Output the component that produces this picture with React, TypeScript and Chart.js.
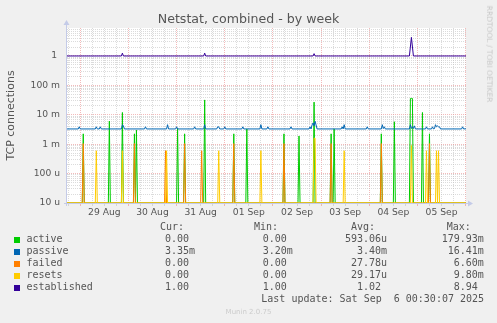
import React, { useEffect, useRef } from 'react';
import { Chart, registerables } from 'chart.js';

Chart.register(...registerables);

// Time axis: hours relative to 29 Aug 00:00
const X_MIN = -6.6;
const X_MAX = 192.2;
const Y_MIN = 1e-5;
const Y_MAX = 8.94;

const TITLE = 'Netstat, combined - by week';
const Y_TITLE = 'TCP connections';
const DAY_LABELS = ['29 Aug', '30 Aug', '31 Aug', '01 Sep', '02 Sep', '03 Sep', '04 Sep', '05 Sep'];
const DAY_LABEL_HOURS = [12, 36, 60, 84, 108, 132, 156, 180];
const Y_TICK_VALUES = [1e-5, 1e-4, 1e-3, 1e-2, 1e-1, 1];
const Y_TICK_LABELS = ['10 u', '100 u', '1 m', '10 m', '100 m', '1 '];

// [hour, value] samples (30-minute resolution)
const ACTIVE: [number, number][] = [
  [-7, 0], [1, 0], [1.5, 2.25e-3], [2, 0], [14, 0], [14.5, 6.1e-3], [15, 0],
  [20.5, 0], [21, 12e-3], [21.5, 0], [26.5, 0], [27, 2.25e-3], [27.5, 0], [28, 3e-3], [28.5, 0],
  [48, 0], [48.5, 3.5e-3], [49, 0], [51.5, 0], [52, 2.25e-3], [52.5, 0],
  [61.5, 0], [62, 32e-3], [62.5, 0], [76, 0], [76.5, 2.25e-3], [77, 0],
  [82.5, 0], [83, 3.3e-3], [83.5, 0], [101, 0], [101.5, 2.25e-3], [102, 0],
  [108.5, 0], [109, 1.9e-3], [109.5, 0], [116, 0], [116.5, 27e-3], [117, 0],
  [124.5, 0], [125, 2.25e-3], [125.5, 0], [126, 0], [126.5, 3.3e-3], [127, 0],
  [149.5, 0], [150, 2.25e-3], [150.5, 0], [156, 0], [156.5, 5.8e-3], [157, 0],
  [164, 0], [164.5, 36e-3], [165, 36e-3], [165.5, 36e-3], [166, 0],
  [170, 0], [170.5, 12e-3], [171, 0], [173.5, 0], [174, 2.25e-3], [174.5, 0], [193, 0],
];

const PASSIVE: [number, number][] = [
  [-7, 3.3e-3], [-1, 3.3e-3], [-0.5, 3.9e-3], [0, 3.3e-3], [7.5, 3.3e-3], [8, 3.9e-3], [8.5, 3.3e-3],
  [9.5, 3.3e-3], [10, 3.9e-3], [10.5, 3.3e-3], [20.5, 3.3e-3], [21, 4.6e-3], [21.5, 4.2e-3], [22, 3.3e-3],
  [32, 3.3e-3], [32.5, 3.9e-3], [33, 3.3e-3], [43, 3.3e-3], [43.5, 4.6e-3], [44, 3.3e-3],
  [47.5, 3.3e-3], [48, 3.9e-3], [48.5, 3.3e-3], [56.5, 3.3e-3], [57, 3.9e-3], [57.5, 3.3e-3],
  [61.5, 3.3e-3], [62, 4.6e-3], [62.5, 3.3e-3], [68, 3.3e-3], [68.5, 3.9e-3], [69, 3.9e-3], [69.5, 3.3e-3],
  [71.5, 3.3e-3], [72, 3.9e-3], [72.5, 3.3e-3], [80.5, 3.3e-3], [81, 3.9e-3], [81.5, 3.3e-3],
  [89.5, 3.3e-3], [90, 4.6e-3], [90.5, 3.3e-3], [93, 3.3e-3], [93.5, 3.9e-3], [94, 3.3e-3],
  [104.5, 3.3e-3], [105, 3.9e-3], [105.5, 3.3e-3],
  [114, 3.3e-3], [114.5, 3.9e-3], [115, 3.3e-3], [115.5, 4.5e-3], [116, 5.3e-3], [116.5, 4.2e-3],
  [117, 6e-3], [117.5, 4.5e-3], [118, 3.3e-3],
  [130, 3.3e-3], [130.5, 3.9e-3], [131, 3.3e-3], [131.5, 4.6e-3], [132, 3.3e-3],
  [142.5, 3.3e-3], [143, 3.9e-3], [143.5, 3.3e-3], [150, 3.3e-3], [150.5, 4.6e-3], [151, 3.4e-3],
  [151.5, 3.9e-3], [152, 3.3e-3], [164, 3.3e-3], [164.5, 4.6e-3], [165, 3.4e-3], [165.5, 3.9e-3],
  [166, 3.4e-3], [166.5, 4.2e-3], [167, 3.3e-3], [172, 3.3e-3], [172.5, 3.9e-3], [173, 3.3e-3],
  [175, 3.3e-3], [175.5, 3.9e-3], [176, 3.3e-3], [176.5, 3.4e-3], [177, 4.6e-3], [177.5, 3.9e-3],
  [178, 4.2e-3], [178.5, 3.9e-3], [179, 3.9e-3], [179.5, 3.3e-3], [190, 3.3e-3], [190.5, 3.9e-3],
  [191, 3.3e-3], [193, 3.35e-3],
];

const FAILED: [number, number][] = [
  [-7, 0], [1, 0], [1.5, 1.05e-3], [2, 0], [26.5, 0], [27, 1.05e-3], [27.5, 0],
  [42, 0], [42.5, 0.6e-3], [43, 0], [51.5, 0], [52, 1.05e-3], [52.5, 0],
  [60, 0], [60.5, 0.6e-3], [61, 0], [76, 0], [76.5, 1.05e-3], [77, 0],
  [101, 0], [101.5, 1.05e-3], [102, 0], [124.5, 0], [125, 1.05e-3], [125.5, 0],
  [149.5, 0], [150, 1.05e-3], [150.5, 0], [173.5, 0], [174, 1.05e-3], [174.5, 0], [193, 0],
];

const RESETS: [number, number][] = [
  [-7, 0], [7.5, 0], [8, 0.6e-3], [8.5, 0], [20.5, 0], [21, 0.6e-3], [21.5, 0],
  [42.5, 0], [43, 0.6e-3], [43.5, 0], [68.5, 0], [69, 0.6e-3], [69.5, 0],
  [89.5, 0], [90, 0.6e-3], [90.5, 0], [116, 0], [116.5, 1.6e-3], [117, 1.6e-3], [117.5, 0],
  [131, 0], [131.5, 0.6e-3], [132, 0], [164.5, 0], [165, 0.9e-3], [165.5, 0],
  [172, 0], [172.5, 0.6e-3], [173, 0], [177, 0], [177.5, 0.6e-3], [178, 0], [178.5, 0.6e-3], [179, 0],
  [193, 0],
];

const ESTABLISHED: [number, number][] = [
  [-7, 1], [20.5, 1], [21, 1.25], [21.5, 1], [61.5, 1], [62, 1.25], [62.5, 1],
  [116, 1], [116.5, 1.2], [117, 1], [164, 1], [165, 4.3], [166, 1], [193, 1],
];

const SERIES_NAMES = ['active', 'passive', 'failed', 'resets', 'established'];
const SERIES_COLORS = ['#00CC00', '#0066B3', '#FF8000', '#FFCC00', '#330099'];
const SERIES_DATA = [ACTIVE, PASSIVE, FAILED, RESETS, ESTABLISHED];

const CUR = ['0.00', '3.35m', '0.00', '0.00', '1.00'];
const MIN = ['0.00', '3.20m', '0.00', '0.00', '1.00'];
const AVG = ['593.06u', '3.40m', '27.78u', '29.17u', '1.02'];
const MAX = ['179.93m', '16.41m', '6.60m', '9.80m', '8.94'];
const LAST_UPDATE = 'Last update: Sat Sep  6 00:30:07 2025';
const VERSION = 'Munin 2.0.75';
const WATERMARK = 'RRDTOOL / TOBI OETIKER';

const MAJOR_GRID = 'rgba(235, 140, 140, 0.6)';
const MINOR_GRID = 'rgba(190, 190, 190, 0.55)';
const AXIS_COLOR = '#c4cbe8';
const TEXT = '#555555';

const isDecade = (v: number) => Math.abs(Math.log10(v) - Math.round(Math.log10(v))) < 1e-6;

const fmt = (s: string) => {
  const hasSuffix = /[a-zA-Z]$/.test(s);
  const num = hasSuffix ? s.slice(0, -1) : s;
  return num.padStart(6, ' ') + (hasSuffix ? s.slice(-1) : ' ');
};

export default function App() {
  const ref = useRef<HTMLCanvasElement | null>(null);

  useEffect(() => {
    if (!ref.current) return;
    const xTicks: number[] = [];
    for (let h = -6; h <= X_MAX; h += 6) xTicks.push(h);
    const yTicks: number[] = [];
    for (let d = -5; d <= 0; d++) {
      for (let k = 1; k <= 9; k++) {
        const v = Number((k * Math.pow(10, d)).toPrecision(3));
        if (v <= Y_MAX) yTicks.push(v);
      }
    }

    const bgPlugin = {
      id: 'plotBg',
      beforeDraw(chart: any) {
        const { ctx, chartArea: a } = chart;
        ctx.save();
        ctx.fillStyle = '#ffffff';
        ctx.fillRect(a.left, a.top, a.right - a.left, a.bottom - a.top);
        ctx.restore();
      },
    };
    const axesPlugin = {
      id: 'rrdAxes',
      beforeDatasetsDraw(chart: any) {
        const { ctx, chartArea: a } = chart;
        ctx.save();
        ctx.strokeStyle = AXIS_COLOR;
        ctx.fillStyle = AXIS_COLOR;
        ctx.lineWidth = 1;
        const lx = Math.round(a.left) - 0.5;
        const by = Math.round(a.bottom) + 0.5;
        ctx.beginPath();
        ctx.moveTo(lx, a.bottom + 3);
        ctx.lineTo(lx, a.top - 4);
        ctx.moveTo(a.left - 3, by);
        ctx.lineTo(a.right + 3, by);
        ctx.stroke();
        ctx.beginPath();
        ctx.moveTo(lx - 3, a.top - 3);
        ctx.lineTo(lx + 3, a.top - 3);
        ctx.lineTo(lx, a.top - 8);
        ctx.closePath();
        ctx.fill();
        ctx.beginPath();
        ctx.moveTo(a.right + 2, by - 3);
        ctx.lineTo(a.right + 2, by + 3);
        ctx.lineTo(a.right + 7, by);
        ctx.closePath();
        ctx.fill();
        ctx.restore();
      },
    };

    const datasets = SERIES_DATA.map((pairs, i) => ({
      label: SERIES_NAMES[i],
      data: pairs.map(([x, y]) => ({ x, y: y > 0 ? y : Y_MIN })),
      borderColor: SERIES_COLORS[i],
      backgroundColor: SERIES_COLORS[i],
      borderWidth: 1,
      pointRadius: 0,
      tension: 0,
      fill: false,
      order: 5 - i,
    }));

    const chart = new Chart(ref.current, {
      type: 'line',
      data: { datasets },
      plugins: [bgPlugin, axesPlugin],
      options: {
        animation: false,
        responsive: false,
        maintainAspectRatio: false,
        events: [],
        layout: { padding: { top: 28, right: 31, left: 0, bottom: 0 } },
        plugins: { legend: { display: false }, tooltip: { enabled: false }, title: { display: false } },
        scales: {
          x: {
            type: 'linear',
            min: X_MIN,
            max: X_MAX,
            afterBuildTicks: (s: any) => {
              s.ticks = xTicks.map((value) => ({ value }));
            },
            afterFit: (s: any) => {
              s.height = 120;
            },
            ticks: {
              autoSkip: false,
              maxRotation: 0,
              minRotation: 0,
              padding: 1,
              color: TEXT,
              font: { family: 'DejaVu Sans', size: 9.2 },
              callback: (v: any) => {
                const i = DAY_LABEL_HOURS.indexOf(Number(v));
                return i >= 0 ? DAY_LABELS[i] : '';
              },
            },
            grid: {
              color: (c: any) => (c.tick && c.tick.value % 24 === 0 ? MAJOR_GRID : MINOR_GRID),
              tickColor: (c: any) => (c.tick && c.tick.value % 24 === 0 ? MAJOR_GRID : MINOR_GRID),
              lineWidth: 1,
              drawTicks: true,
              tickLength: 3,
              tickBorderDash: [],
            },
            border: { display: false, dash: [1, 1] },
          },
          y: {
            type: 'logarithmic',
            min: Y_MIN,
            max: Y_MAX,
            afterBuildTicks: (s: any) => {
              s.ticks = yTicks.map((value) => ({ value }));
            },
            afterFit: (s: any) => {
              s.width = 67;
            },
            title: {
              display: true,
              text: Y_TITLE,
              color: TEXT,
              font: { family: 'DejaVu Sans', size: 11 },
              padding: { top: 5, bottom: 0 },
            },
            ticks: {
              autoSkip: false,
              padding: 7,
              color: TEXT,
              font: { family: 'DejaVu Sans', size: 9.2 },
              callback: (v: any) => {
                const n = Number(v);
                const i = Y_TICK_VALUES.findIndex((t) => Math.abs(t - n) / t < 1e-6);
                return i >= 0 ? Y_TICK_LABELS[i] : '';
              },
            },
            grid: {
              color: (c: any) => (c.tick && isDecade(c.tick.value) ? MAJOR_GRID : MINOR_GRID),
              lineWidth: 1,
              drawTicks: false,
            },
            border: { display: false, dash: [1, 1] },
          },
        },
      },
    } as any);
    return () => chart.destroy();
  }, []);

  const mono: React.CSSProperties = {
    position: 'absolute',
    fontFamily: '"DejaVu Sans Mono", monospace',
    fontSize: 10,
    lineHeight: '12px',
    color: TEXT,
    whiteSpace: 'pre',
  };
  const rowTop = (k: number) => 221 + 12 * k;
  const colLeft = [153, 250.7, 345, 441.7];
  const headers = ['Cur:', 'Min:', 'Avg:', 'Max:'];
  const headerLeft = [160, 254, 351, 446.7];
  const cols = [CUR, MIN, AVG, MAX];

  return (
    <div
      style={{
        position: 'fixed',
        left: 0,
        top: 0,
        width: 497,
        height: 323,
        background: '#f0f0f0',
        overflow: 'hidden',
      }}
    >
      <canvas
        ref={ref}
        width={497}
        height={323}
        style={{ position: 'absolute', left: 0, top: 0, width: 497, height: 323 }}
      />
      <div
        style={{
          position: 'absolute',
          left: 0,
          top: 13.3,
          width: 497,
          textAlign: 'center',
          fontFamily: '"DejaVu Sans", sans-serif',
          fontSize: 12.6,
          lineHeight: '12.6px',
          color: TEXT,
          whiteSpace: 'nowrap',
        }}
      >
        {TITLE}
      </div>
      <div
        style={{
          position: 'absolute',
          left: 488.5,
          top: 53.5,
          transform: 'translate(-50%, -50%) rotate(90deg)',
          fontFamily: '"DejaVu Sans", sans-serif',
          fontSize: 7.5,
          lineHeight: '8px',
          color: '#c8c8c8',
          whiteSpace: 'nowrap',
        }}
      >
        {WATERMARK}
      </div>
      {headers.map((h, j) => (
        <div key={h} style={{ ...mono, left: headerLeft[j], top: rowTop(0) }}>
          {h}
        </div>
      ))}
      {SERIES_NAMES.map((name, i) => (
        <React.Fragment key={name}>
          <div
            style={{
              position: 'absolute',
              left: 14,
              top: rowTop(i + 1) + 4,
              width: 6,
              height: 6,
              background: SERIES_COLORS[i],
            }}
          />
          <div style={{ ...mono, left: 26.5, top: rowTop(i + 1) }}>{name}</div>
          {cols.map((c, j) => (
            <div key={j} style={{ ...mono, left: colLeft[j], top: rowTop(i + 1) }}>
              {fmt(c[i])}
            </div>
          ))}
        </React.Fragment>
      ))}
      <div style={{ ...mono, left: 261.3, top: rowTop(6) }}>{LAST_UPDATE}</div>
      <div
        style={{
          position: 'absolute',
          left: 0,
          width: 497,
          top: 308,
          textAlign: 'center',
          fontFamily: '"DejaVu Sans", sans-serif',
          fontSize: 7,
          lineHeight: '8px',
          color: '#cccccc',
          whiteSpace: 'nowrap',
        }}
      >
        {VERSION}
      </div>
    </div>
  );
}
